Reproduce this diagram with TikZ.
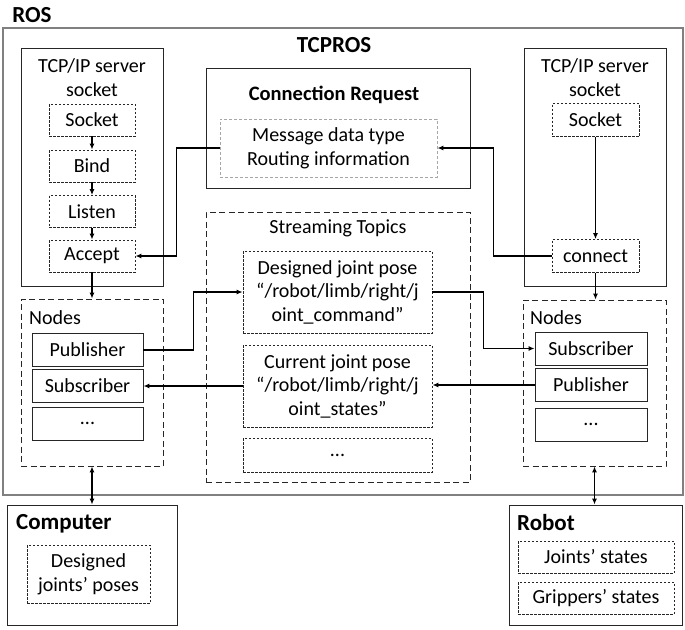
\documentclass[tikz,border=0pt]{standalone}
\usepackage{fontspec}
\setmainfont{Carlito}
\usetikzlibrary{arrows.meta}

\begin{document}
\begin{tikzpicture}[x=1pt, y=-1pt,
  every node/.append style={font=\fontsize{20}{24}\selectfont, align=center, inner sep=0pt},
  frame/.style={draw=black!85, line width=0.9pt},
  outer/.style={draw=black!50, line width=1.8pt},
  fine/.style={draw=black!85, line width=0.8pt, dash pattern=on 2.5pt off 1.5pt},
  grey/.style={draw=black!35, line width=0.8pt, dash pattern=on 3pt off 2pt},
  coarse/.style={draw=black!85, line width=0.8pt, dash pattern=on 6pt off 3.5pt},
  title/.style={font=\fontsize{23}{27}\selectfont\bfseries},
  link/.style={line width=1.2pt, -{Latex[length=6pt, width=5pt]}},
  both/.style={line width=1.2pt, {Latex[length=6pt, width=5pt]}-{Latex[length=6pt, width=5pt]}}]
  \useasboundingbox (0,0) rectangle (685,629);

  \node[outer, minimum width=680pt, minimum height=467pt] (ros) at (343,261.5) {};
  \node[title] (rostxt) at (32,15) {ROS};
  \node[title] (tcpros) at (334,45) {TCPROS};

  \node[frame, minimum width=142pt, minimum height=238pt] (tcpL) at (92,167) {};
  \node (tcpLtxt) at (92,77.5) {TCP/IP server\\socket};
  \node[fine, minimum width=86pt, minimum height=32pt] (sockL) at (92,120) {Socket};
  \node[fine, minimum width=86pt, minimum height=32pt] (bind) at (92,166) {Bind};
  \node[fine, minimum width=86pt, minimum height=32pt] (listen) at (92,211.5) {Listen};
  \node[fine, minimum width=86pt, minimum height=32pt] (accept) at (92,256) {Accept};

  \node[frame, minimum width=264pt, minimum height=120pt] (connreq) at (338,128) {};
  \node[font=\fontsize{20.5}{24}\selectfont\bfseries] (conntxt) at (334,95) {Connection Request};
  \node[grey, minimum width=217pt, minimum height=58pt] (msg) at (328.5,148) {Message data type\\Routing information};

  \node[frame, minimum width=142pt, minimum height=238pt] (tcpR) at (595,167) {};
  \node (tcpRtxt) at (595,77.5) {TCP/IP server\\socket};
  \node[fine, minimum width=87pt, minimum height=33pt] (sockR) at (595.5,120) {Socket};
  \node[fine, minimum width=87pt, minimum height=33pt] (conn) at (595.5,256) {connect};

  \node[coarse, minimum width=142pt, minimum height=167pt] (nodesL) at (92,382.5) {};
  \node[anchor=west] (nodesLtxt) at (29,318) {Nodes};
  \node[frame, minimum width=111pt, minimum height=33pt] (pubL) at (87.5,350) {Publisher};
  \node[frame, minimum width=111pt, minimum height=33pt] (subL) at (87.5,385.5) {Subscriber};
  \node[frame, minimum width=111pt, minimum height=33pt] (dotsL) at (87.5,423.5) {...};

  \node[coarse, minimum width=264pt, minimum height=270pt] (stream) at (338,347) {};
  \node (streamtxt) at (338,228) {Streaming Topics};
  \node[fine, minimum width=189pt, minimum height=82pt, font=\fontsize{20}{23.5}\selectfont] (design) at (337.5,292)
    {Designed joint pose\\“/robot/limb/right/j\\oint\_command”};
  \node[fine, minimum width=189pt, minimum height=82pt, font=\fontsize{20}{23.5}\selectfont] (current) at (337.5,386)
    {Current joint pose\\“/robot/limb/right/j\\oint\_states”};
  \node[fine, minimum width=189pt, minimum height=34pt] (dotsM) at (337.5,455) {...};

  \node[coarse, minimum width=143pt, minimum height=166pt] (nodesR) at (594.5,383) {};
  \node[anchor=west] (nodesRtxt) at (530,318) {Nodes};
  \node[frame, minimum width=112pt, minimum height=33pt] (subR) at (591,348.5) {Subscriber};
  \node[frame, minimum width=112pt, minimum height=33pt] (pubR) at (591,385) {Publisher};
  \node[frame, minimum width=112pt, minimum height=33pt] (dotsR) at (591,424.5) {...};

  \node[frame, minimum width=170pt, minimum height=120pt] (computer) at (92,565) {};
  \node[title, anchor=west] (comptxt) at (16,524) {Computer};
  \node[fine, minimum width=123pt, minimum height=58pt] (cposes) at (88.5,574) {Designed\\joints’ poses};

  \node[frame, minimum width=173pt, minimum height=120pt] (robot) at (595.5,565) {};
  \node[title, anchor=west] (robtxt) at (517,523) {Robot};
  \node[fine, minimum width=156pt, minimum height=32pt] (rjoints) at (596,557) {Joints’ states};
  \node[fine, minimum width=156pt, minimum height=32pt] (rgrip) at (596,598) {Grippers’ states};

  \draw[link] (sockL) -- (bind);
  \draw[link] (bind) -- (listen);
  \draw[link] (listen) -- (accept);
  \draw[link] (accept) -- (nodesL);
  \draw[link] (msg.west) -- ++(-43,0) |- (accept.east);
  \draw[link] (sockR) -- (conn);
  \draw[link] (conn) -- (conn |- nodesR.north);
  \draw[link] (conn.west) -- ++(-58,0) |- (msg.east);
  \draw[link] (pubL.east) -- ++(50,0) |- (design.west);
  \draw[link] (current.west) -- (current.west -| subL.east);
  \draw[link] (design.east) -- ++(51,0) |- (subR.west);
  \draw[link] (pubR.west) -- (pubR.west -| current.east);
  \draw[both] (nodesL) -- (computer);
  \draw[both] (nodesR.south) -- (nodesR.south |- robot.north);
\end{tikzpicture}
\end{document}
